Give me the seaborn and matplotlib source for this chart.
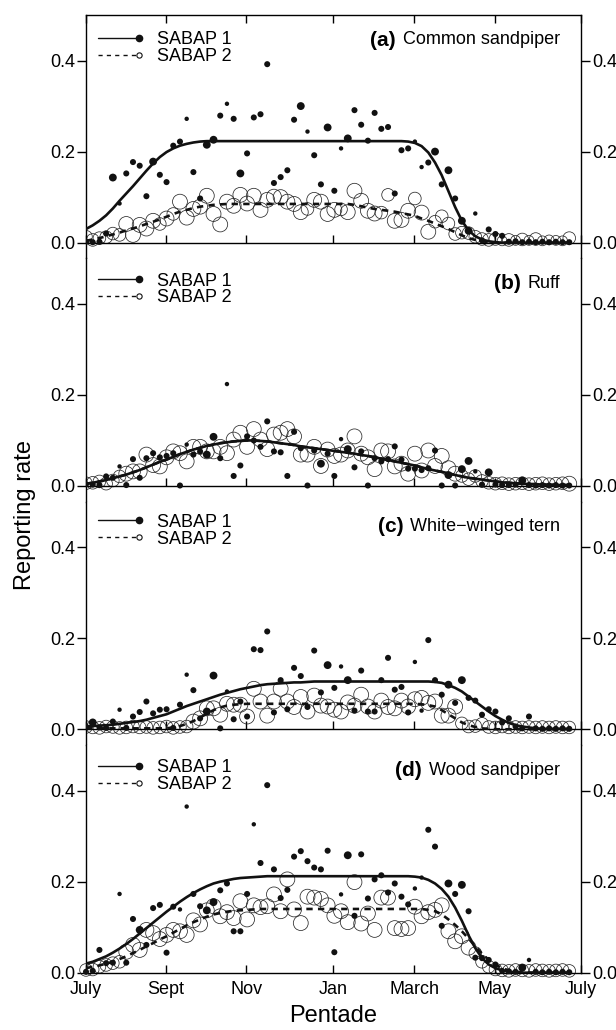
import numpy as np
import pandas as pd
import matplotlib
matplotlib.use("Agg")
import matplotlib.pyplot as plt
import seaborn as sns
from matplotlib.lines import Line2D
from matplotlib.legend_handler import HandlerLine2D

# ---------------------------------------------------------
#                 DATA
# ---------------------------------------------------------

pentade = np.arange(73)  # pentade index, starting 1 July

month_pos = [0, 11.88, 23.85, 36.87, 48.9, 60.87, 73.75]
month_labels = ["July", "Sept", "Nov", "Jan", "March", "May", "July"]

# (a) Common sandpiper
a_sabap1 = [0.002, 0.001, 0.002, 0.020, 0.143, 0.086, 0.152, 0.177, 0.169, 0.102,
            0.178, 0.149, 0.133, 0.213, 0.222, 0.272, 0.155, 0.097, 0.215, 0.226,
            0.279, 0.305, 0.272, 0.152, 0.196, 0.275, 0.282, 0.392, 0.131, 0.144,
            0.159, 0.270, 0.300, 0.244, 0.192, 0.128, 0.253, 0.114, 0.207, 0.229,
            0.291, 0.259, 0.224, 0.285, 0.250, 0.254, 0.108, 0.203, 0.207, 0.222,
            0.166, 0.176, 0.200, 0.128, 0.159, 0.097, 0.048, 0.026, 0.064, 0.005,
            0.029, 0.019, 0.015, 0.002, 0.003, 0.001, 0.002, 0.001, 0.002, 0.001,
            0.002, 0.001, 0.001]
a_sabap1_n = [2, 2, 2, 2, 3, 1, 2, 2, 2, 2, 3, 2, 2, 2, 2, 1, 2, 2, 3, 3,
              2, 1, 2, 3, 2, 2, 2, 2, 2, 2, 2, 2, 3, 1, 2, 2, 3, 2, 1, 3,
              2, 2, 2, 2, 2, 2, 2, 2, 2, 1, 1, 2, 3, 2, 3, 2, 3, 3, 1, 2,
              2, 2, 2, 2, 2, 2, 2, 2, 2, 2, 2, 2, 2]
a_sabap2 = [0.013, 0.006, 0.010, 0.012, 0.020, 0.017, 0.041, 0.017, 0.039, 0.031,
            0.048, 0.041, 0.053, 0.063, 0.090, 0.055, 0.074, 0.079, 0.103, 0.063,
            0.040, 0.090, 0.081, 0.105, 0.086, 0.103, 0.072, 0.094, 0.101, 0.100,
            0.090, 0.085, 0.067, 0.074, 0.094, 0.090, 0.063, 0.072, 0.073, 0.067,
            0.114, 0.092, 0.070, 0.064, 0.066, 0.105, 0.048, 0.050, 0.070, 0.097,
            0.066, 0.024, 0.046, 0.058, 0.042, 0.019, 0.022, 0.021, 0.013, 0.008,
            0.006, 0.008, 0.004, 0.006, 0.005, 0.007, 0.005, 0.008, 0.004, 0.006,
            0.005, 0.004, 0.010]
a_sabap2_n = [2, 2, 2, 2, 2, 2, 3, 3, 3, 3, 3, 2, 3, 2, 3, 3, 3, 3, 3, 3,
              3, 3, 3, 3, 3, 3, 3, 3, 3, 3, 3, 3, 3, 2, 3, 3, 3, 3, 2, 3,
              3, 3, 3, 3, 2, 2, 3, 3, 3, 2, 3, 3, 2, 2, 2, 2, 2, 2, 2, 2,
              2, 2, 1, 2, 1, 2, 1, 2, 1, 1, 1, 1, 2]
a_fit1 = [0.030, 0.038, 0.048, 0.060, 0.075, 0.092, 0.108, 0.124, 0.141, 0.158,
          0.174, 0.188, 0.199, 0.207, 0.213, 0.217, 0.220, 0.222, 0.223, 0.223,
          0.223, 0.223, 0.223, 0.223, 0.223, 0.223, 0.223, 0.223, 0.223, 0.223,
          0.223, 0.223, 0.223, 0.223, 0.223, 0.223, 0.223, 0.223, 0.223, 0.223,
          0.223, 0.223, 0.223, 0.223, 0.223, 0.223, 0.223, 0.223, 0.222, 0.219,
          0.212, 0.198, 0.176, 0.148, 0.113, 0.078, 0.048, 0.027, 0.014, 0.007,
          0.003, 0.001, 0.000, 0.000, 0.000, 0.000, 0.000, 0.000, 0.000, 0.000,
          0.000, 0.000, 0.000]
a_fit2 = [0.004, 0.007, 0.010, 0.014, 0.018, 0.022, 0.027, 0.031, 0.036, 0.041,
          0.046, 0.051, 0.057, 0.063, 0.068, 0.072, 0.076, 0.079, 0.081, 0.083,
          0.084, 0.085, 0.085, 0.085, 0.085, 0.085, 0.085, 0.085, 0.085, 0.085,
          0.085, 0.085, 0.085, 0.085, 0.085, 0.085, 0.085, 0.085, 0.085, 0.085,
          0.083, 0.080, 0.077, 0.074, 0.072, 0.070, 0.068, 0.065, 0.062, 0.059,
          0.053, 0.048, 0.042, 0.036, 0.030, 0.023, 0.016, 0.010, 0.006, 0.003,
          0.001, 0.000, 0.000, 0.000, 0.000, 0.000, 0.000, 0.000, 0.000, 0.000,
          0.000, 0.000, 0.000]

# (b) Ruff
b_sabap1 = [0.004, 0.003, 0.002, 0.021, 0.018, 0.043, 0.002, 0.059, 0.018, 0.061,
            0.072, 0.063, 0.066, 0.072, 0.001, 0.091, 0.069, 0.076, 0.069, 0.108,
            0.061, 0.224, 0.022, 0.045, 0.109, 0.100, 0.086, 0.142, 0.076, 0.074,
            0.022, 0.119, 0.083, 0.001, 0.078, 0.049, 0.071, 0.022, 0.103, 0.081,
            0.041, 0.076, 0.001, 0.061, 0.054, 0.059, 0.087, 0.058, 0.038, 0.038,
            0.035, 0.039, 0.078, 0.001, 0.024, 0.001, 0.037, 0.055, 0.032, 0.003,
            0.030, 0.003, 0.002, 0.002, 0.003, 0.012, 0.002, 0.001, 0.002, 0.001,
            0.002, 0.001, 0.001]
b_sabap1_n = [2, 2, 2, 2, 2, 1, 2, 2, 2, 2, 2, 2, 2, 2, 2, 1, 2, 2, 3, 3,
              2, 1, 2, 2, 2, 2, 2, 2, 2, 2, 2, 2, 2, 2, 2, 3, 2, 2, 1, 3,
              2, 2, 2, 2, 2, 2, 2, 2, 2, 2, 2, 2, 2, 2, 3, 2, 3, 3, 1, 2,
              3, 2, 2, 2, 2, 3, 2, 2, 2, 2, 2, 2, 2]
b_sabap2 = [0.006, 0.007, 0.010, 0.005, 0.012, 0.021, 0.027, 0.032, 0.032, 0.069,
            0.046, 0.043, 0.063, 0.076, 0.072, 0.054, 0.086, 0.086, 0.076, 0.076,
            0.086, 0.072, 0.102, 0.117, 0.086, 0.125, 0.102, 0.081, 0.113, 0.117,
            0.125, 0.109, 0.069, 0.069, 0.086, 0.044, 0.080, 0.066, 0.069, 0.078,
            0.109, 0.071, 0.063, 0.037, 0.078, 0.076, 0.043, 0.049, 0.027, 0.071,
            0.034, 0.078, 0.044, 0.066, 0.039, 0.027, 0.022, 0.015, 0.022, 0.011,
            0.007, 0.005, 0.006, 0.004, 0.005, 0.006, 0.004, 0.005, 0.006, 0.004,
            0.005, 0.006, 0.005]
b_sabap2_n = [2, 2, 2, 2, 2, 2, 3, 3, 3, 3, 3, 3, 3, 3, 3, 3, 3, 3, 3, 3,
              3, 3, 3, 3, 3, 3, 3, 3, 3, 3, 3, 3, 3, 3, 3, 3, 3, 3, 3, 3,
              3, 3, 3, 3, 3, 3, 3, 3, 3, 3, 3, 3, 3, 3, 3, 3, 2, 2, 2, 2,
              2, 2, 2, 2, 2, 2, 2, 2, 2, 2, 2, 2, 3]
b_fit1 = [0.005, 0.007, 0.010, 0.013, 0.017, 0.021, 0.025, 0.030, 0.035, 0.041,
          0.047, 0.053, 0.058, 0.064, 0.070, 0.075, 0.080, 0.084, 0.088, 0.091,
          0.094, 0.096, 0.098, 0.099, 0.100, 0.100, 0.099, 0.098, 0.096, 0.094,
          0.092, 0.090, 0.087, 0.085, 0.083, 0.081, 0.079, 0.077, 0.075, 0.073,
          0.071, 0.068, 0.066, 0.063, 0.060, 0.057, 0.054, 0.051, 0.048, 0.045,
          0.041, 0.037, 0.034, 0.031, 0.028, 0.024, 0.021, 0.018, 0.016, 0.014,
          0.012, 0.010, 0.008, 0.007, 0.006, 0.005, 0.004, 0.004, 0.003, 0.003,
          0.002, 0.002, 0.002]
b_fit2 = [0.005, 0.007, 0.010, 0.013, 0.017, 0.021, 0.025, 0.030, 0.035, 0.041,
          0.047, 0.053, 0.058, 0.064, 0.070, 0.075, 0.080, 0.084, 0.088, 0.091,
          0.094, 0.096, 0.098, 0.099, 0.100, 0.100, 0.099, 0.098, 0.096, 0.094,
          0.092, 0.090, 0.087, 0.085, 0.083, 0.081, 0.079, 0.077, 0.075, 0.073,
          0.071, 0.068, 0.066, 0.063, 0.060, 0.057, 0.054, 0.051, 0.048, 0.045,
          0.041, 0.037, 0.034, 0.031, 0.028, 0.024, 0.021, 0.018, 0.016, 0.014,
          0.012, 0.010, 0.008, 0.007, 0.006, 0.005, 0.004, 0.004, 0.003, 0.003,
          0.002, 0.002, 0.002]

# (c) White-winged tern
c_sabap1 = [0.006, 0.015, 0.004, 0.003, 0.017, 0.043, 0.003, 0.028, 0.038, 0.061,
            0.035, 0.043, 0.044, 0.003, 0.054, 0.120, 0.086, 0.024, 0.039, 0.118,
            0.002, 0.083, 0.022, 0.061, 0.028, 0.176, 0.174, 0.215, 0.037, 0.108,
            0.044, 0.135, 0.117, 0.049, 0.173, 0.081, 0.141, 0.091, 0.138, 0.108,
            0.041, 0.129, 0.039, 0.039, 0.108, 0.157, 0.087, 0.093, 0.037, 0.148,
            0.041, 0.196, 0.108, 0.076, 0.098, 0.058, 0.108, 0.069, 0.063, 0.032,
            0.044, 0.039, 0.015, 0.024, 0.006, 0.002, 0.028, 0.002, 0.001, 0.002,
            0.001, 0.002, 0.001]
c_sabap1_n = [2, 3, 2, 2, 2, 1, 2, 2, 2, 2, 2, 2, 2, 2, 2, 1, 2, 2, 3, 3,
              2, 1, 2, 2, 2, 2, 2, 2, 2, 2, 2, 2, 2, 2, 2, 2, 3, 2, 1, 3,
              2, 2, 2, 2, 2, 2, 2, 2, 2, 1, 1, 2, 2, 2, 3, 2, 3, 2, 2, 2,
              2, 2, 2, 2, 2, 2, 2, 2, 2, 2, 2, 2, 2]
c_sabap2 = [0.005, 0.004, 0.003, 0.006, 0.005, 0.003, 0.004, 0.006, 0.004, 0.005,
            0.003, 0.004, 0.006, 0.003, 0.005, 0.006, 0.017, 0.024, 0.046, 0.046,
            0.032, 0.056, 0.054, 0.054, 0.028, 0.089, 0.061, 0.030, 0.061, 0.089,
            0.061, 0.049, 0.071, 0.039, 0.074, 0.052, 0.050, 0.043, 0.039, 0.059,
            0.052, 0.076, 0.050, 0.039, 0.063, 0.049, 0.046, 0.063, 0.050, 0.066,
            0.069, 0.058, 0.061, 0.030, 0.030, 0.050, 0.013, 0.006, 0.007, 0.012,
            0.005, 0.004, 0.006, 0.004, 0.005, 0.004, 0.005, 0.004, 0.005, 0.004,
            0.005, 0.004, 0.004]
c_sabap2_n = [2, 2, 2, 2, 2, 2, 2, 2, 2, 2, 2, 2, 2, 2, 2, 2, 3, 3, 3, 3,
              3, 3, 3, 3, 3, 3, 3, 3, 3, 3, 3, 3, 3, 3, 3, 3, 3, 3, 3, 3,
              3, 3, 3, 3, 3, 3, 3, 3, 3, 3, 3, 3, 3, 3, 3, 3, 2, 2, 2, 2,
              2, 2, 2, 2, 2, 2, 2, 2, 2, 2, 2, 2, 2]
c_fit1 = [0.006, 0.007, 0.008, 0.009, 0.010, 0.012, 0.014, 0.016, 0.018, 0.021,
          0.025, 0.029, 0.033, 0.039, 0.045, 0.051, 0.056, 0.061, 0.066, 0.071,
          0.076, 0.080, 0.084, 0.088, 0.091, 0.094, 0.097, 0.099, 0.100, 0.101,
          0.102, 0.103, 0.103, 0.104, 0.105, 0.105, 0.105, 0.105, 0.105, 0.105,
          0.105, 0.105, 0.105, 0.105, 0.105, 0.105, 0.105, 0.105, 0.105, 0.105,
          0.105, 0.105, 0.104, 0.102, 0.097, 0.091, 0.083, 0.072, 0.061, 0.050,
          0.039, 0.029, 0.021, 0.014, 0.009, 0.006, 0.004, 0.002, 0.001, 0.001,
          0.001, 0.001, 0.001]
c_fit2 = [0.002, 0.002, 0.002, 0.002, 0.002, 0.002, 0.002, 0.002, 0.002, 0.002,
          0.002, 0.002, 0.002, 0.004, 0.007, 0.012, 0.018, 0.026, 0.034, 0.042,
          0.048, 0.052, 0.054, 0.055, 0.056, 0.056, 0.056, 0.056, 0.056, 0.056,
          0.056, 0.056, 0.056, 0.056, 0.056, 0.056, 0.056, 0.056, 0.056, 0.056,
          0.056, 0.056, 0.056, 0.056, 0.056, 0.056, 0.056, 0.056, 0.056, 0.056,
          0.055, 0.053, 0.050, 0.042, 0.033, 0.024, 0.015, 0.009, 0.005, 0.002,
          0.001, 0.000, 0.000, 0.000, 0.000, 0.000, 0.000, 0.000, 0.000, 0.000,
          0.000, 0.000, 0.000]

# (d) Wood sandpiper
d_sabap1 = [0.002, 0.004, 0.050, 0.021, 0.022, 0.173, 0.022, 0.118, 0.094, 0.061,
            0.142, 0.149, 0.044, 0.145, 0.139, 0.365, 0.173, 0.146, 0.137, 0.155,
            0.181, 0.196, 0.091, 0.091, 0.173, 0.326, 0.241, 0.412, 0.227, 0.164,
            0.182, 0.255, 0.267, 0.245, 0.231, 0.227, 0.268, 0.045, 0.172, 0.258,
            0.125, 0.260, 0.163, 0.205, 0.214, 0.176, 0.196, 0.167, 0.150, 0.185,
            0.209, 0.314, 0.277, 0.103, 0.196, 0.173, 0.193, 0.135, 0.033, 0.032,
            0.028, 0.018, 0.004, 0.003, 0.002, 0.011, 0.028, 0.002, 0.001, 0.002,
            0.001, 0.002, 0.001]
d_sabap1_n = [2, 2, 2, 2, 2, 1, 2, 2, 3, 2, 2, 2, 2, 2, 1, 1, 2, 2, 3, 3,
              2, 2, 2, 2, 2, 1, 2, 2, 2, 2, 2, 2, 2, 2, 2, 2, 2, 2, 1, 3,
              2, 2, 2, 2, 2, 2, 2, 2, 2, 1, 1, 2, 2, 2, 3, 2, 3, 2, 2, 2,
              2, 2, 2, 2, 2, 3, 1, 2, 2, 2, 2, 2, 2]
d_sabap2 = [0.006, 0.007, 0.013, 0.017, 0.021, 0.024, 0.046, 0.061, 0.050, 0.094,
            0.087, 0.074, 0.083, 0.094, 0.091, 0.083, 0.115, 0.106, 0.137, 0.146,
            0.124, 0.133, 0.120, 0.157, 0.117, 0.148, 0.144, 0.146, 0.172, 0.135,
            0.205, 0.139, 0.109, 0.167, 0.165, 0.162, 0.148, 0.125, 0.135, 0.111,
            0.199, 0.108, 0.130, 0.094, 0.165, 0.165, 0.098, 0.096, 0.098, 0.145,
            0.124, 0.133, 0.138, 0.148, 0.091, 0.069, 0.080, 0.055, 0.043, 0.024,
            0.013, 0.007, 0.005, 0.004, 0.006, 0.005, 0.004, 0.006, 0.005, 0.004,
            0.005, 0.006, 0.004]
d_sabap2_n = [2, 2, 2, 2, 2, 2, 3, 3, 3, 3, 3, 3, 3, 3, 3, 3, 3, 3, 3, 3,
              3, 3, 3, 3, 3, 3, 3, 3, 3, 3, 3, 3, 3, 3, 3, 3, 3, 3, 3, 3,
              3, 3, 3, 3, 3, 3, 3, 3, 3, 3, 3, 3, 3, 3, 3, 3, 3, 3, 2, 2,
              2, 2, 2, 2, 2, 2, 2, 2, 2, 2, 2, 2, 2]
d_fit1 = [0.020, 0.024, 0.030, 0.036, 0.044, 0.053, 0.063, 0.074, 0.086, 0.098,
          0.110, 0.122, 0.134, 0.145, 0.156, 0.166, 0.175, 0.183, 0.190, 0.196,
          0.200, 0.203, 0.206, 0.208, 0.209, 0.210, 0.211, 0.212, 0.212, 0.212,
          0.212, 0.212, 0.212, 0.212, 0.212, 0.212, 0.212, 0.212, 0.212, 0.212,
          0.212, 0.212, 0.212, 0.212, 0.212, 0.212, 0.212, 0.212, 0.212, 0.211,
          0.209, 0.204, 0.196, 0.184, 0.167, 0.143, 0.114, 0.082, 0.054, 0.032,
          0.018, 0.010, 0.005, 0.002, 0.001, 0.000, 0.000, 0.000, 0.000, 0.000,
          0.000, 0.000, 0.000]
d_fit2 = [0.010, 0.013, 0.016, 0.020, 0.024, 0.030, 0.036, 0.043, 0.050, 0.058,
          0.065, 0.073, 0.080, 0.088, 0.096, 0.104, 0.111, 0.117, 0.123, 0.128,
          0.131, 0.134, 0.136, 0.137, 0.138, 0.139, 0.140, 0.140, 0.140, 0.140,
          0.140, 0.140, 0.140, 0.140, 0.140, 0.140, 0.140, 0.140, 0.140, 0.140,
          0.140, 0.140, 0.140, 0.140, 0.140, 0.140, 0.140, 0.140, 0.140, 0.140,
          0.140, 0.138, 0.135, 0.128, 0.117, 0.105, 0.091, 0.075, 0.058, 0.042,
          0.028, 0.017, 0.010, 0.005, 0.002, 0.001, 0.000, 0.000, 0.000, 0.000,
          0.000, 0.000, 0.000]

panels = [
    ("(a)", "Common sandpiper", a_sabap1, a_sabap1_n, a_sabap2, a_sabap2_n, a_fit1, a_fit2),
    ("(b)", "Ruff", b_sabap1, b_sabap1_n, b_sabap2, b_sabap2_n, b_fit1, b_fit2),
    ("(c)", "White\u2212winged tern", c_sabap1, c_sabap1_n, c_sabap2, c_sabap2_n, c_fit1, c_fit2),
    ("(d)", "Wood sandpiper", d_sabap1, d_sabap1_n, d_sabap2, d_sabap2_n, d_fit1, d_fit2),
]

# ---------------------------------------------------------
#                 STYLE
# ---------------------------------------------------------

sns.set_theme(style="ticks")
plt.rcParams["font.family"] = ["Liberation Sans", "DejaVu Sans"]
plt.rcParams["axes.linewidth"] = 1.0
plt.rcParams["axes.edgecolor"] = "black"
plt.rcParams["xtick.color"] = "black"
plt.rcParams["ytick.color"] = "black"
plt.rcParams["text.color"] = "black"

INK = "#111111"
filled_sizes = {1: 10, 2: 19, 3: 32}
open_sizes = {1: 50, 2: 82, 3: 115}


class EndMarkerHandler(HandlerLine2D):
    """Legend line with the marker sitting at its right end."""
    def create_artists(self, *args, **kwargs):
        artists = super().create_artists(*args, **kwargs)
        line = artists[0]
        line.set_markevery([len(line.get_xdata()) - 1])
        return artists


# ---------------------------------------------------------
#                 FIGURE
# ---------------------------------------------------------

W, H = 616, 1030
fig = plt.figure(figsize=(W / 100, H / 100), dpi=100)

# panel extents in pixels (top, bottom) and legend gap below top
extents = [(15, 258.5), (258.5, 501.8), (501.8, 745.1), (745.1, 972.7)]
legend_gap = [16, 14, 12, 14]
left_px, right_px = 86, 581

axes = []
for top, bottom in extents:
    ax = fig.add_axes([left_px / W, 1 - bottom / H,
                       (right_px - left_px) / W, (bottom - top) / H])
    axes.append(ax)

for k, (ax, panel) in enumerate(zip(axes, panels)):
    tag, name, s1, n1, s2, n2, f1, f2 = panel
    clip = k < 3
    height_px = extents[k][1] - extents[k][0]

    # SABAP 2 open circles
    sns.scatterplot(x=pentade, y=s2, size=n2, sizes=open_sizes,
                    color=INK, legend=False, ax=ax, clip_on=clip, zorder=2)
    circ = ax.collections[-1]
    circ.set_facecolor("none")
    circ.set_edgecolor("#2a2a2a")
    circ.set_linewidth(0.55)

    # SABAP 2 fit (dashed)
    sns.lineplot(x=pentade, y=f2, color=INK, linewidth=1.9,
                 linestyle=(0, (2.4, 2.0)), ax=ax, zorder=3)

    # SABAP 1 filled dots
    sns.scatterplot(x=pentade, y=s1, size=n1, sizes=filled_sizes,
                    color=INK, linewidth=0, legend=False, ax=ax,
                    clip_on=clip, zorder=4)

    # SABAP 1 fit (solid)
    sns.lineplot(x=pentade, y=f1, color=INK, linewidth=1.9, ax=ax, zorder=5)

    ax.set_xlim(0, 73.75)
    ax.set_ylim(-0.0348 if k < 3 else 0, 0.5)
    ax.spines["bottom"].set_position(("data", 0))
    ax.spines["top"].set_visible(k == 0)
    ax.spines["right"].set_visible(True)
    ax.spines["left"].set_visible(True)

    ax.set_yticks([0, 0.2, 0.4])
    ax.set_yticklabels(["0.0", "0.2", "0.4"])
    ax.tick_params(axis="y", left=True, right=True, labelleft=True,
                   labelright=True, direction="out", length=6.5, width=1,
                   pad=1.5, labelsize=13)
    ax.set_xticks(month_pos)
    ax.set_xticklabels(month_labels)
    ax.tick_params(axis="x", bottom=True, top=(k == 0), direction="in",
                   length=6, width=1, labelbottom=(k == 3), pad=6,
                   labelsize=13)
    ax.set_xlabel("")
    ax.set_ylabel("")

    # panel title: bold tag + species name
    name_txt = ax.annotate(name, xy=(1, 1), xycoords="axes fraction",
                           xytext=(-15, -18), textcoords="offset points",
                           ha="right", va="center", fontsize=13)
    ax.annotate(tag, xy=(0, 0.5), xycoords=name_txt, xytext=(-5, 0),
                textcoords="offset points", ha="right", va="center",
                fontsize=15, fontweight="bold")

    # legend
    h1 = Line2D([], [], color=INK, linewidth=1.0, marker="o",
                markersize=4.5, markerfacecolor=INK, markeredgecolor=INK)
    h2 = Line2D([], [], color=INK, linewidth=1.0, linestyle=(0, (3, 3)),
                marker="o", markersize=3.8, markerfacecolor="white",
                markeredgecolor=INK, markeredgewidth=0.8)
    ax.legend([h1, h2], ["SABAP 1", "SABAP 2"],
              handler_map={Line2D: EndMarkerHandler()},
              loc="upper left",
              bbox_to_anchor=(0.024, 1 - legend_gap[k] / height_px),
              frameon=False, fontsize=13, handlelength=2.3,
              handletextpad=1.0, labelspacing=0.0, borderpad=0,
              borderaxespad=0)

fig.text(25 / W, 1 - 515 / H, "Reporting rate", rotation=90,
         ha="center", va="center", fontsize=17)
fig.text(333 / W, 1 - 1016 / H, "Pentade", ha="center", va="center",
         fontsize=17)

fig.savefig("out.png", dpi=100)
